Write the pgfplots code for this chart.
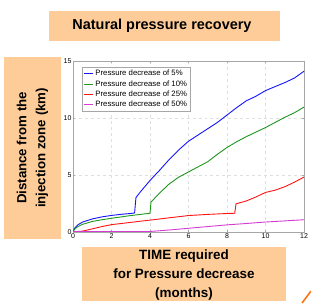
\documentclass[border=0pt]{standalone}
\usepackage{pgfplots}
\pgfplotsset{compat=1.18}
\usepackage{fontspec}
\setmainfont{Liberation Sans}
\definecolor{peach}{RGB}{254,204,153}
\definecolor{cblue}{RGB}{20,20,255}
\definecolor{cgreen}{RGB}{30,150,30}
\definecolor{cred}{RGB}{255,20,20}
\definecolor{cmag}{RGB}{210,60,210}
\definecolor{corange}{RGB}{255,110,10}
\begin{document}
\begin{tikzpicture}[x=1bp,y=1bp]
\useasboundingbox (0,0) rectangle (311,304);
% title box
\fill[peach] (49,263) rectangle (280,293);
\node[font=\bfseries\fontsize{14.5}{16}\selectfont] at (162,278) {Natural pressure recovery};
% y label box
\fill[peach] (4,65) rectangle (61,247);
\node[rotate=90,align=center,font=\bfseries\fontsize{13.3}{19}\selectfont] at (32.5,156) {Distance from the\\injection zone (km)};
% x label box
\fill[peach] (82,3) rectangle (286,57);
\node[align=center,font=\bfseries\fontsize{13.5}{19.5}\selectfont] at (184,29) {TIME required\\for Pressure decrease\\(months)};
\draw[corange,line width=1.5bp] (302,1) -- (311,13);
\begin{axis}[
  at={(73bp,72.3bp)}, anchor=south west,
  scale only axis, width=231bp, height=170.7bp,
  xmin=0, xmax=12, ymin=0, ymax=15,
  xtick={0,2,...,12}, ytick={0,5,10,15},
  axis line style={gray!70},
  tick style={gray!70},
  major tick length=2bp,
  tick align=inside,
  grid=major,
  major grid style={dashed,gray!25},
  tick label style={font=\fontsize{7}{8}\selectfont},
  /pgf/number format/assume math mode=true,
  xticklabel style={yshift=2bp},
  yticklabel style={xshift=2bp},
  legend style={at={(0.039,0.965)},anchor=north west,font=\fontsize{7.8}{9}\selectfont,
    draw=gray!70,inner sep=1bp,row sep=-0.8bp,cells={anchor=west}},
  legend image post style={xscale=0.55},
  every axis plot/.append style={line width=0.9bp},
]
\addplot[cblue] coordinates {(0,0)(0.1,0.35)(0.25,0.6)(0.5,0.85)(1,1.12)(1.5,1.3)(2,1.43)(2.5,1.53)(3,1.6)(3.2,1.65)(3.27,3.0)(3.5,3.5)(4,4.5)(4.5,5.4)(5,6.35)(5.5,7.2)(6,7.95)(6.5,8.5)(7,9.05)(7.5,9.6)(8,10.25)(8.5,10.9)(9,11.5)(9.5,11.9)(10,12.4)(10.5,12.75)(11,13.1)(11.5,13.5)(12,14.1)};
\addlegendentry{Pressure decrease of 5\%}
\addplot[cgreen] coordinates {(0,0)(0.1,0.25)(0.25,0.45)(0.5,0.65)(1,0.9)(1.5,1.05)(2,1.18)(2.5,1.3)(3,1.42)(3.5,1.52)(4,1.62)(4.05,2.6)(4.5,3.4)(5,4.2)(5.5,4.8)(6,5.25)(6.5,5.7)(7,6.15)(7.5,6.8)(8,7.4)(8.5,7.9)(9,8.35)(9.5,8.75)(10,9.15)(10.5,9.6)(11,10.05)(11.5,10.45)(12,10.95)};
\addlegendentry{Pressure decrease of 10\%}
\addplot[cred] coordinates {(0,0)(0.5,0.05)(1,0.25)(1.5,0.45)(2,0.62)(3,0.82)(4,1.02)(5,1.22)(6,1.42)(7,1.52)(8,1.6)(8.4,1.62)(8.47,2.45)(9,2.7)(9.5,3.05)(10,3.45)(10.5,3.65)(11,3.95)(11.5,4.35)(12,4.8)};
\addlegendentry{Pressure decrease of 25\%}
\addplot[cmag] coordinates {(0,0)(4,0.02)(5,0.15)(6,0.3)(7,0.45)(8,0.6)(9,0.72)(10,0.85)(11,0.95)(12,1.05)};
\addlegendentry{Pressure decrease of 50\%}
\end{axis}
\end{tikzpicture}
\end{document}
